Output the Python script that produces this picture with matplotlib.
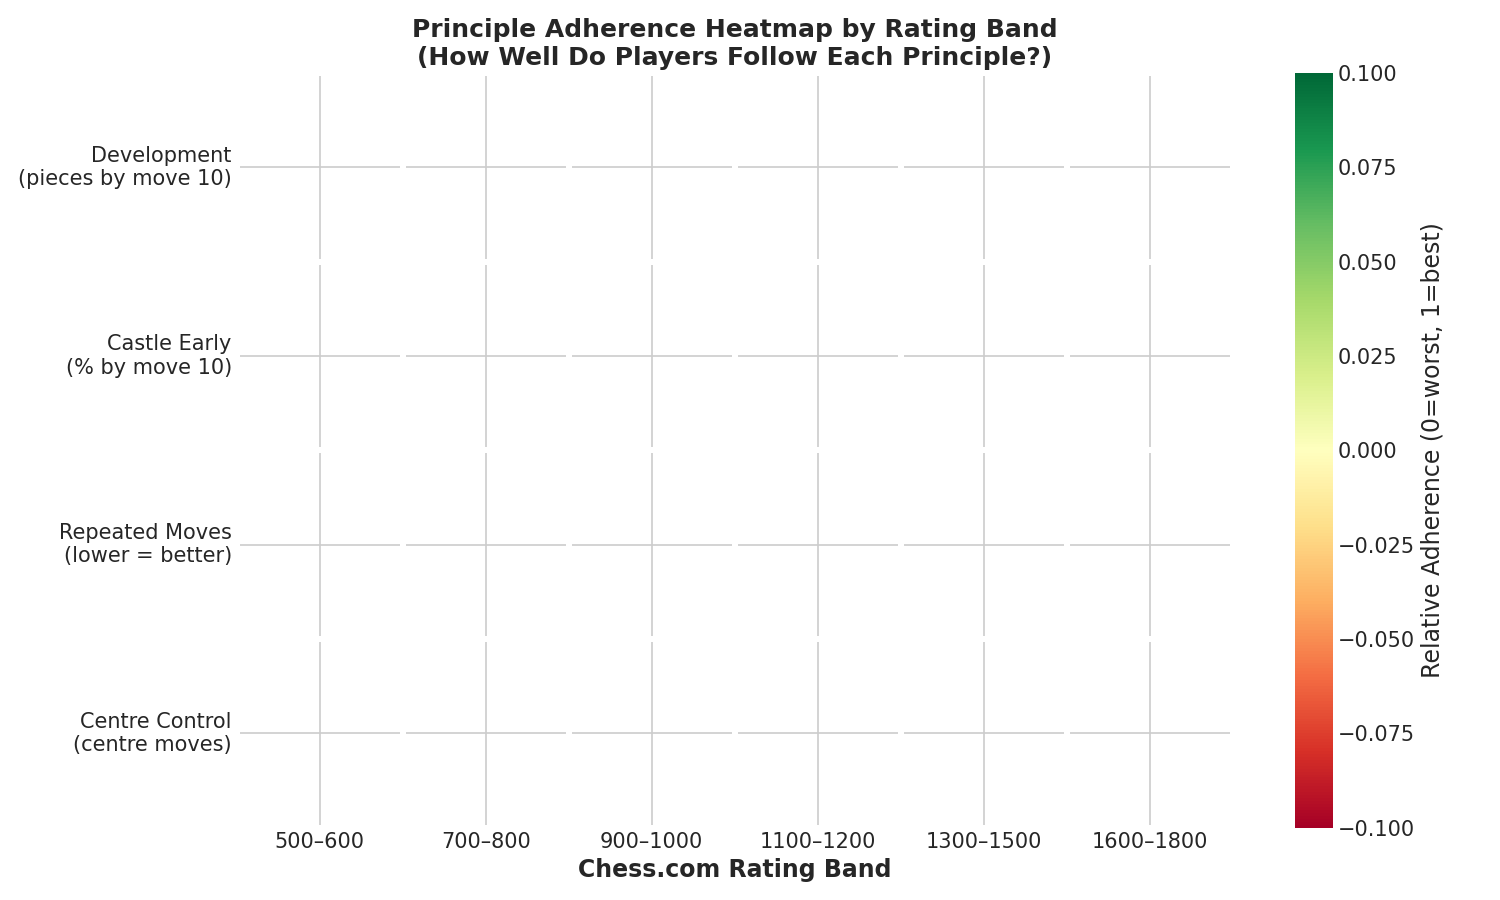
import matplotlib
matplotlib.use("Agg")
import matplotlib.pyplot as plt
import numpy as np
import pandas as pd
import seaborn as sns

bands = ["500–600", "700–800", "900–1000", "1100–1200", "1300–1500", "1600–1800"]
principles = ["Development\n(pieces by move 10)", "Castle Early\n(% by move 10)",
              "Repeated Moves\n(lower = better)", "Centre Control\n(centre moves)"]
# no adherence values available: every cell is empty
adherence = np.full((len(principles), len(bands)), np.nan)

sns.set_theme(style="whitegrid", font_scale=1.0)
df = pd.DataFrame(adherence, index=principles, columns=bands)

fig, ax = plt.subplots(figsize=(15, 9), dpi=100)
sns.heatmap(df, ax=ax, cmap="RdYlGn", vmin=-0.1, vmax=0.1, linewidths=3, linecolor="white",
            cbar_kws={"label": "Relative Adherence (0=worst, 1=best)"})
ax.grid(True, color="#cccccc", linewidth=1.2)
ax.set_axisbelow(True)
ax.tick_params(axis="both", labelsize=15, length=0)
plt.setp(ax.get_yticklabels(), rotation=0, ha="right")
plt.setp(ax.get_xticklabels(), rotation=0)
ax.set_xlabel("Chess.com Rating Band", fontsize=17, fontweight="bold")
ax.set_ylabel("")
ax.set_title("Principle Adherence Heatmap by Rating Band\n(How Well Do Players Follow Each Principle?)",
             fontsize=18, fontweight="bold")
cbar = ax.collections[0].colorbar
cbar.ax.tick_params(labelsize=15, length=0)
cbar.set_label("Relative Adherence (0=worst, 1=best)", fontsize=17)
cbar.outline.set_visible(False)
plt.tight_layout()
plt.savefig("out.png")
